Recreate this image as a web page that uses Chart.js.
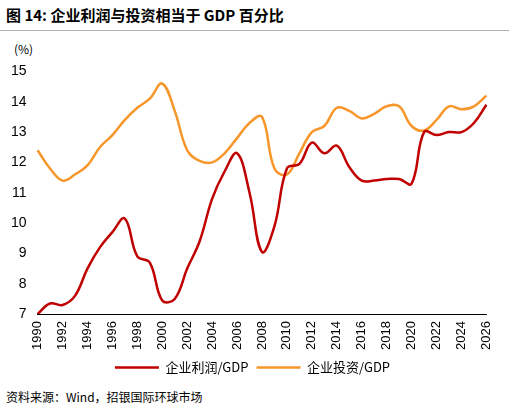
<!DOCTYPE html>
<html><head><meta charset="utf-8">
<script src="https://cdn.jsdelivr.net/npm/chart.js@4/dist/chart.umd.min.js"></script>
<style>
body{margin:0;width:509px;height:413px;background:#fff;font-family:"Noto Sans CJK SC",sans-serif;position:relative;overflow:hidden}
#title{position:absolute;left:6px;top:4px;font-size:15px;font-weight:bold;color:#000}
#line{position:absolute;left:0;top:30px;width:509px;border-top:1px solid #b0b0b0}
#unit{position:absolute;left:14px;top:40px;font-size:12px;color:#000}
#wrap{position:absolute;left:0;top:60px;width:505px;height:324px}
#src{position:absolute;left:6px;top:388px;font-size:12px;color:#000}
</style></head><body>
<div id="title">图 14: 企业利润与投资相当于 GDP 百分比</div>
<div id="line"></div>
<div id="unit">(%)</div>
<div id="wrap"><canvas id="c"></canvas></div>
<div id="src">资料来源：Wind，招银国际环球市场</div>
<script>
const years = [];
for (let y = 1990; y <= 2026; y++) years.push(String(y));
const profit = [7.0,7.35,7.3,7.6,8.5,9.2,9.7,10.15,8.9,8.7,7.45,7.5,8.5,9.4,10.8,11.7,12.3,11.0,9.05,9.9,11.8,11.95,12.65,12.3,12.55,11.85,11.4,11.4,11.45,11.45,11.3,13.0,12.9,13.0,13.0,13.3,13.9];
const invest = [12.4,11.8,11.4,11.6,11.9,12.5,12.9,13.4,13.8,14.1,14.6,13.7,12.4,12.05,12.0,12.3,12.8,13.3,13.5,11.8,11.6,12.3,13.0,13.2,13.8,13.7,13.45,13.6,13.85,13.85,13.2,13.05,13.4,13.85,13.75,13.85,14.2];
const font = { family: "Liberation Sans, Arial", size: 14 };
new Chart(document.getElementById("c"), {
  type: "line",
  data: {
    labels: years,
    datasets: [
      { label: "企业利润/GDP", data: profit, borderColor: "#c00000", borderWidth: 2.5, pointRadius: 0, tension: 0.4 },
      { label: "企业投资/GDP", data: invest, borderColor: "#f7962b", borderWidth: 2.5, pointRadius: 0, tension: 0.4 },
    ],
  },
  options: {
    responsive: true,
    maintainAspectRatio: false,
    animation: false,
    layout: { padding: { left: 8, right: 8, top: 2 } },
    plugins: {
      legend: {
        position: "bottom",
        labels: { color: "#000", boxWidth: 44, boxHeight: 0, padding: 8, font: { family: "Noto Sans CJK SC", size: 13 } },
      },
    },
    scales: {
      x: {
        offset: false,
        grid: { display: false, drawTicks: true, tickLength: 4 },
        border: { color: "#000" },
        ticks: {
          color: "#000", font: { family: "Liberation Sans, Arial", size: 13 }, maxRotation: 90, minRotation: 90, autoSkip: false,
          callback: (v, i) => (i % 2 === 0 ? years[i] : ""),
        },
      },
      y: {
        min: 7, max: 15,
        grid: { display: false },
        border: { display: false },
        ticks: { stepSize: 1, color: "#000", font },
      },
    },
  },
});
</script>
</body></html>
